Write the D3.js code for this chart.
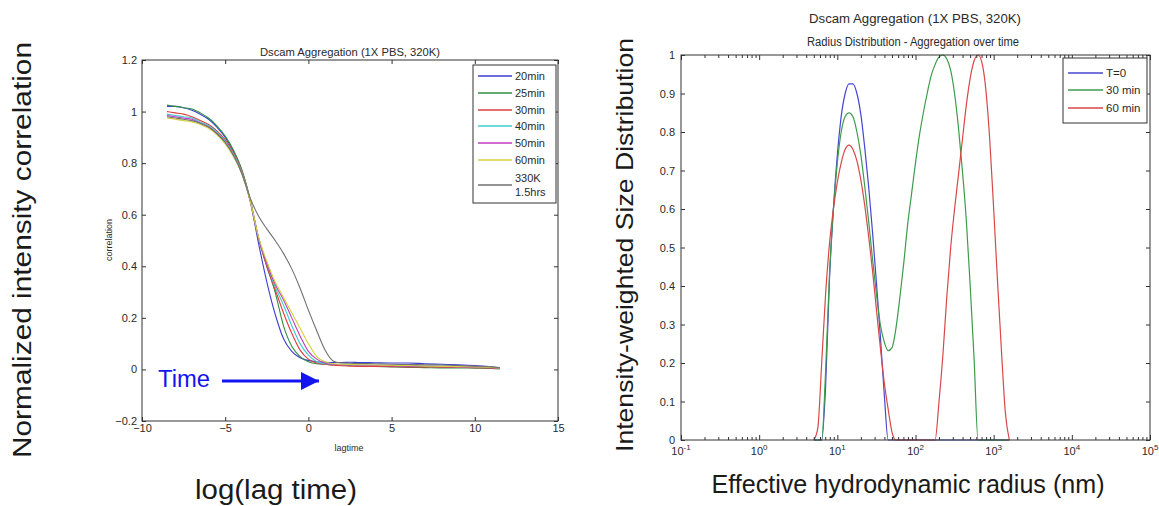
<!DOCTYPE html>
<html><head><meta charset="utf-8">
<script src="https://cdn.jsdelivr.net/npm/d3@7"></script>
<style>
html,body{margin:0;padding:0;background:#fff;}
text{font-family:"Liberation Sans",Arial,Helvetica,sans-serif;}
</style></head>
<body>
<svg id="chart" width="1159" height="506"></svg>
<script>
// ---------- Left panel data: normalized intensity correlation vs log(lag time) ----------
const lagTime = [-8.5,-8,-7.5,-7,-6.5,-6,-5.5,-5,-4.5,-4,-3.5,-3,-2.5,-2,-1.5,-1,-0.5,0,0.5,1,1.5,2,2.5,3,4,5,6,7,8,9,10,11,11.5];
const seriesNames = ["20min","25min","30min","40min","50min","60min","330K"];
const corr20 = [1.02,1.02,1.015,1.005,0.99,0.97,0.94,0.90,0.845,0.77,0.655,0.49,0.34,0.215,0.12,0.07,0.045,0.035,0.03,0.028,0.027,0.027,0.028,0.027,0.026,0.025,0.025,0.022,0.02,0.018,0.015,0.01,0.005];
const corr25 = [1.025,1.02,1.015,1.01,0.995,0.975,0.945,0.905,0.85,0.775,0.66,0.51,0.40,0.30,0.17,0.09,0.05,0.03,0.022,0.02,0.018,0.017,0.015,0.014,0.012,0.01,0.008,0.007,0.006,0.006,0.005,0.004,0.002];
const corr30 = [1.0,0.995,0.99,0.98,0.965,0.95,0.925,0.89,0.84,0.77,0.655,0.51,0.40,0.31,0.22,0.14,0.075,0.04,0.025,0.02,0.016,0.014,0.013,0.012,0.012,0.011,0.01,0.01,0.009,0.008,0.007,0.005,0.004];
const corr40 = [0.99,0.985,0.98,0.975,0.96,0.945,0.92,0.885,0.835,0.765,0.655,0.51,0.41,0.32,0.25,0.17,0.10,0.055,0.03,0.022,0.02,0.019,0.018,0.017,0.016,0.015,0.014,0.013,0.012,0.011,0.01,0.008,0.006];
const corr50 = [0.985,0.98,0.975,0.97,0.955,0.94,0.915,0.88,0.83,0.76,0.655,0.51,0.41,0.33,0.27,0.20,0.13,0.07,0.04,0.025,0.02,0.018,0.017,0.016,0.015,0.014,0.013,0.012,0.011,0.01,0.009,0.007,0.005];
const corr60 = [0.975,0.97,0.965,0.96,0.95,0.935,0.91,0.875,0.825,0.76,0.655,0.515,0.42,0.34,0.28,0.22,0.16,0.10,0.05,0.03,0.022,0.02,0.019,0.018,0.017,0.016,0.015,0.013,0.012,0.011,0.01,0.008,0.006];
const corr330K = [0.98,0.975,0.97,0.965,0.955,0.94,0.915,0.88,0.83,0.76,0.665,0.595,0.545,0.50,0.45,0.39,0.315,0.23,0.15,0.075,0.032,0.025,0.024,0.023,0.022,0.02,0.019,0.018,0.017,0.015,0.013,0.01,0.007];
const leftXTicks = [-10,-5,0,5,10,15];
const leftYTicks = [-0.2,0,0.2,0.4,0.6,0.8,1,1.2];

// ---------- Right panel data: radius distribution ----------
const radiusNm = [5.01,5.62,6.31,7.08,7.94,8.91,10,11.2,12.6,14.1,15.8,17.8,20.0,22.4,25.1,28.2,31.6,35.5,39.8,44.7,50.1,56.2,63.1,70.8,79.4,89.1,100,112,126,141,158,178,200,224,251,282,316,355,398,447,501,562,631,708,794,891,1000,1122,1259,1413,1585];
const distT0 = [0,0,0,0.14,0.42,0.60,0.74,0.84,0.90,0.925,0.925,0.90,0.845,0.76,0.66,0.54,0.41,0.27,0.12,0,0,0,0,0,0,0,0,0,0,0,0,0,0,0,0,0,0,0,0,0,0,0,0,0,0,0,0,0,0,0,0];
const dist30 = [0,0,0,0.18,0.43,0.60,0.72,0.80,0.84,0.85,0.84,0.80,0.74,0.66,0.57,0.47,0.38,0.30,0.255,0.232,0.24,0.29,0.37,0.46,0.56,0.64,0.72,0.79,0.85,0.90,0.945,0.975,0.995,1.0,0.99,0.96,0.90,0.81,0.70,0.57,0.40,0.21,0,0,0,0,0,0,0,0,0];
const dist60 = [0,0.03,0.20,0.38,0.51,0.60,0.67,0.72,0.755,0.766,0.755,0.725,0.675,0.61,0.53,0.44,0.34,0.24,0.15,0.08,0.02,0,0,0,0,0,0,0,0,0,0,0,0.10,0.22,0.37,0.50,0.60,0.69,0.78,0.87,0.94,0.985,1.0,0.98,0.91,0.78,0.60,0.41,0.23,0.07,0];
const distNames = ["T=0","30 min","60 min"];
const rightYTicks = [0,0.1,0.2,0.3,0.4,0.5,0.6,0.7,0.8,0.9,1];
const rightXDecades = [-1,0,1,2,3,4,5];

// ---------- Drawing ----------
const svg = d3.select("#chart");
svg.append("rect").attr("width",1159).attr("height",506).attr("fill","#fff");
const axisCol = "#333";
const lblCol = "#2a2a2a";

// ===== LEFT PANEL =====
const xL = d3.scaleLinear().domain([-10,15]).range([142,558]);
const yL = d3.scaleLinear().domain([-0.2,1.2]).range([421,60]);
const leftCols = ["#3c3cd2","#2f8f42","#e03c3c","#3ccccc","#c23cc2","#d2d23a","#707070"];
const leftData = [corr20,corr25,corr30,corr40,corr50,corr60,corr330K];

const gL = svg.append("g");
const lineL = d3.line().x((d,i)=>xL(lagTime[i])).y(d=>yL(d)).curve(d3.curveMonotoneX);
leftData.forEach((s,k)=>{
  gL.append("path").attr("d",lineL(s)).attr("fill","none")
    .attr("stroke",leftCols[k]).attr("stroke-width",1.1);
});

function styleAxis(g, fs){
  g.select(".domain").remove();
  g.selectAll("line").attr("stroke",axisCol);
  g.selectAll("text").attr("fill",lblCol).style("font-size",fs+"px")
   .style("font-family","'Liberation Sans',Arial,sans-serif");
}
const axLB = gL.append("g").attr("transform","translate(0,421)")
  .call(d3.axisBottom(xL).tickValues(leftXTicks).tickSize(-4).tickPadding(3).tickFormat(d3.format("d")));
styleAxis(axLB,11);
const axLT = gL.append("g").attr("transform","translate(0,60)")
  .call(d3.axisTop(xL).tickValues(leftXTicks).tickSize(-4).tickFormat(""));
styleAxis(axLT,11);
const axLL = gL.append("g").attr("transform","translate(142,0)")
  .call(d3.axisLeft(yL).tickValues(leftYTicks).tickSize(-4).tickPadding(5).tickFormat(d=>d===0?"0":d3.format("")(+d.toFixed(1))));
styleAxis(axLL,11);
const axLR = gL.append("g").attr("transform","translate(558,0)")
  .call(d3.axisRight(yL).tickValues(leftYTicks).tickSize(-4).tickFormat(""));
styleAxis(axLR,11);
gL.append("rect").attr("x",142).attr("y",60).attr("width",416).attr("height",361)
  .attr("fill","none").attr("stroke",axisCol).attr("stroke-width",1);

gL.append("text").attr("x",350).attr("y",56).attr("text-anchor","middle")
  .attr("fill",lblCol).style("font-size","11px").attr("textLength",180).attr("lengthAdjust","spacingAndGlyphs")
  .text("Dscam Aggregation (1X PBS, 320K)");
gL.append("text").attr("x",349).attr("y",451).attr("text-anchor","middle")
  .attr("fill",lblCol).style("font-size","9px").text("lagtime");
gL.append("text").attr("transform","translate(112,240) rotate(-90)").attr("text-anchor","middle")
  .attr("fill",lblCol).style("font-size","9px").text("correlation");

// left legend
const legL = gL.append("g");
legL.append("rect").attr("x",473).attr("y",65).attr("width",83).attr("height",138)
  .attr("fill","#fff").attr("stroke",axisCol).attr("stroke-width",1);
const legRowsY = [76,93,110,126,143,160,185];
seriesNames.forEach((n,k)=>{
  legL.append("line").attr("x1",478).attr("x2",512).attr("y1",legRowsY[k]).attr("y2",legRowsY[k])
    .attr("stroke",leftCols[k]).attr("stroke-width",1.3);
  if(k<6){
    legL.append("text").attr("x",515).attr("y",legRowsY[k]+4).attr("fill",lblCol)
      .style("font-size","11px").text(n);
  }
});
legL.append("text").attr("x",515).attr("y",182).attr("fill",lblCol).style("font-size","11px").text("330K");
legL.append("text").attr("x",515).attr("y",196).attr("fill",lblCol).style("font-size","11px").text("1.5hrs");

// Time arrow annotation
const blueAnn = "#1414f0";
gL.append("text").attr("x",158).attr("y",387).attr("fill",blueAnn).style("font-size","23px")
  .attr("textLength",52).attr("lengthAdjust","spacingAndGlyphs").text("Time");
svg.append("defs").append("marker").attr("id","ah").attr("viewBox","0 0 10 10")
  .attr("refX",10).attr("refY",5).attr("markerWidth",6.5).attr("markerHeight",6)
  .attr("markerUnits","strokeWidth").attr("orient","auto")
  .append("path").attr("d","M0,0 L10,5 L0,10 Z").attr("fill",blueAnn);
gL.append("line").attr("x1",222).attr("x2",319).attr("y1",381).attr("y2",381)
  .attr("stroke",blueAnn).attr("stroke-width",3).attr("marker-end","url(#ah)");

// Big axis labels (left)
svg.append("text").attr("transform","translate(31,250) rotate(-90)").attr("text-anchor","middle")
  .attr("fill","#1a1a1a").style("font-size","25px").attr("textLength",416).attr("lengthAdjust","spacingAndGlyphs")
  .text("Normalized intensity correlation");
svg.append("text").attr("x",276).attr("y",499).attr("text-anchor","middle")
  .attr("fill","#1a1a1a").style("font-size","27px").attr("textLength",162).attr("lengthAdjust","spacingAndGlyphs")
  .text("log(lag time)");

// ===== RIGHT PANEL =====
const xR = d3.scaleLog().domain([0.1,1e5]).range([681,1150]);
const yR = d3.scaleLinear().domain([0,1]).range([440,55]);
const rightCols = ["#4646d0","#3c9c4c","#d84848"];
const rightData = [distT0,dist30,dist60];
const gR = svg.append("g");
const lineR = d3.line().x((d,i)=>xR(radiusNm[i])).y(d=>yR(d)).curve(d3.curveMonotoneX);
rightData.forEach((s,k)=>{
  gR.append("path").attr("d",lineR(s)).attr("fill","none")
    .attr("stroke",rightCols[k]).attr("stroke-width",1.2);
});

const allLogTicks = xR.ticks();
const majors = allLogTicks.filter(t=>Math.abs(Math.log10(t)-Math.round(Math.log10(t)))<1e-9);
const minors = allLogTicks.filter(t=>!majors.includes(t));
[[440,d3.axisBottom],[55,d3.axisTop]].forEach(([yy,fn])=>{
  const a1 = gR.append("g").attr("transform",`translate(0,${yy})`).call(fn(xR).tickValues(majors).tickSize(-5).tickFormat(""));
  styleAxis(a1,11);
  const a2 = gR.append("g").attr("transform",`translate(0,${yy})`).call(fn(xR).tickValues(minors).tickSize(-3).tickFormat(""));
  styleAxis(a2,11);
});
const axRL = gR.append("g").attr("transform","translate(681,0)")
  .call(d3.axisLeft(yR).tickValues(rightYTicks).tickSize(-4).tickPadding(6).tickFormat(d=>d===0?"0":(d===1?"1":d3.format(".1f")(d))));
styleAxis(axRL,11);
const axRR = gR.append("g").attr("transform","translate(1150,0)")
  .call(d3.axisRight(yR).tickValues(rightYTicks).tickSize(-4).tickFormat(""));
styleAxis(axRR,11);
gR.append("rect").attr("x",681).attr("y",55).attr("width",469).attr("height",385)
  .attr("fill","none").attr("stroke",axisCol).attr("stroke-width",1);

rightXDecades.forEach(e=>{
  const t = gR.append("text").attr("x",xR(Math.pow(10,e))).attr("y",455).attr("text-anchor","middle")
    .attr("fill",lblCol).style("font-size","11px");
  t.append("tspan").text("10");
  t.append("tspan").attr("dy",-5).style("font-size","8px").text(String(e));
});

gR.append("text").attr("x",915).attr("y",23).attr("text-anchor","middle")
  .attr("fill",lblCol).style("font-size","12px").attr("textLength",212).attr("lengthAdjust","spacingAndGlyphs")
  .text("Dscam Aggregation (1X PBS, 320K)");
gR.append("text").attr("x",913).attr("y",46).attr("text-anchor","middle")
  .attr("fill",lblCol).style("font-size","12px").attr("textLength",212).attr("lengthAdjust","spacingAndGlyphs")
  .text("Radius Distribution - Aggregation over time");

// right legend
const legR = gR.append("g");
legR.append("rect").attr("x",1063).attr("y",58).attr("width",84).attr("height",65)
  .attr("fill","#fff").attr("stroke",axisCol).attr("stroke-width",1);
const legRY = [73,90,108];
distNames.forEach((n,k)=>{
  legR.append("line").attr("x1",1068).attr("x2",1103).attr("y1",legRY[k]).attr("y2",legRY[k])
    .attr("stroke",rightCols[k]).attr("stroke-width",1.3);
  legR.append("text").attr("x",1106).attr("y",legRY[k]+4).attr("fill",lblCol)
    .style("font-size","11.5px").text(n);
});

// Big axis labels (right)
svg.append("text").attr("transform","translate(633,245) rotate(-90)").attr("text-anchor","middle")
  .attr("fill","#1a1a1a").style("font-size","24px").attr("textLength",414).attr("lengthAdjust","spacingAndGlyphs")
  .text("Intensity-weighted Size Distribution");
svg.append("text").attr("x",908).attr("y",493).attr("text-anchor","middle")
  .attr("fill","#1a1a1a").style("font-size","26px").attr("textLength",393).attr("lengthAdjust","spacingAndGlyphs")
  .text("Effective hydrodynamic radius (nm)");
</script>
</body></html>
